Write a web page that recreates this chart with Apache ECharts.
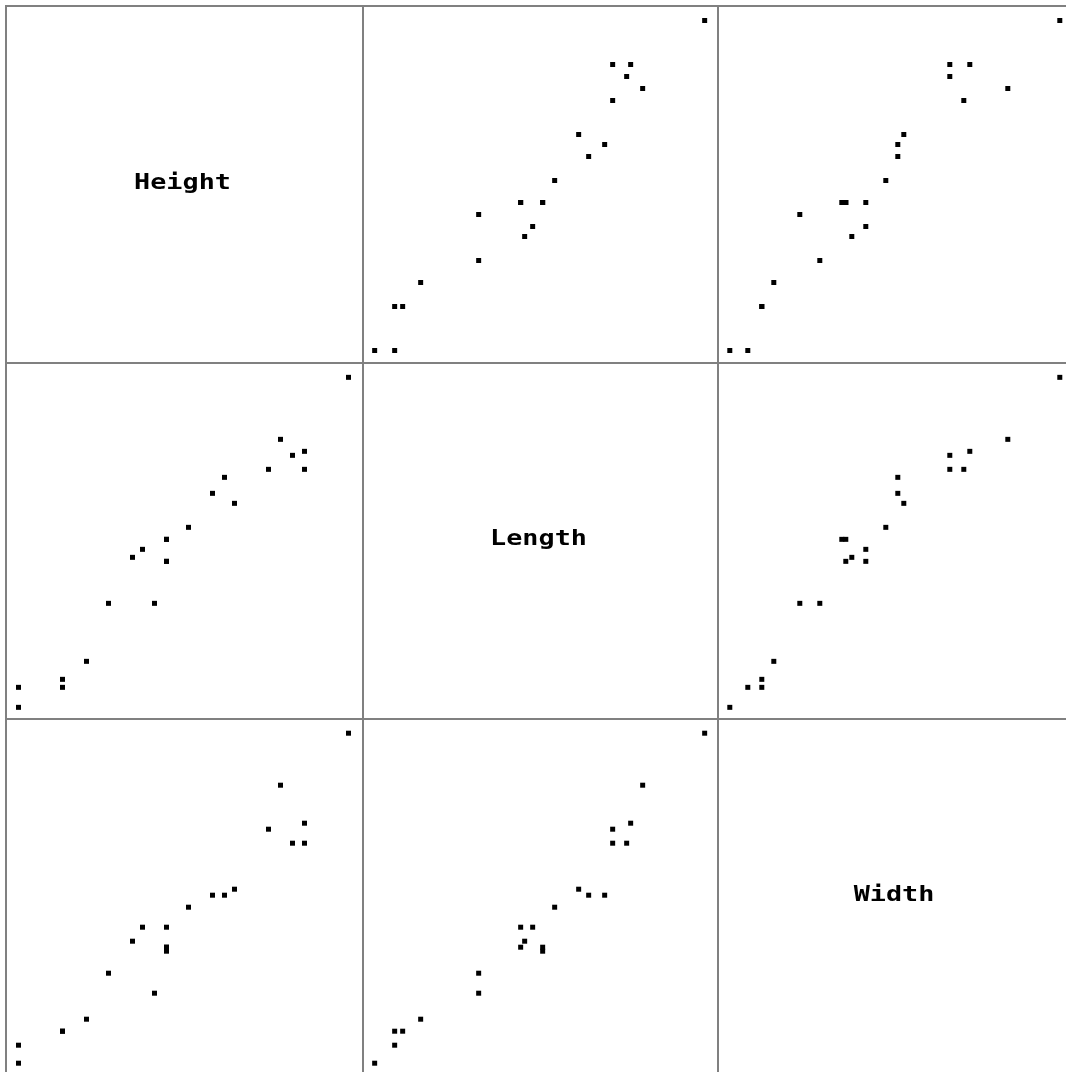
<!DOCTYPE html>
<html>
<head>
<meta charset="utf-8">
<script src="https://cdn.jsdelivr.net/npm/echarts@6/dist/echarts.min.js"></script>
<style>
html,body{margin:0;padding:0;background:#fff;}
#chart{width:1066px;height:1072px;}
</style>
</head>
<body>
<div id="chart"></div>
<script>
// Variables of the scatter-plot matrix
const variables = ['Height', 'Length', 'Width'];
const height = [171,149,149,143,137,131,114,109,103,91,80,80,80,80,74,68,63,51,40,28,28,6,6];
const length = [171,134,125,132,140,125,108,121,113,96,79,79,90,90,58,85,81,58,29,16,20,6,16];
const width  = [171,126,116,116,145,123,93,90,90,84,74,64,64,62,41,74,67,51,28,22,22,6,15];

const columns = [height, length, width];
const axisMin = [-0.25, 0.17, 0.1];

// cell edges (pixels); the last column/row runs past the picture edge
const edgesX = [6, 363, 718, 1074];
const edgesY = [6, 363, 719, 1075];
const W = 1066, H = 1072;

const grids = [], xAxes = [], yAxes = [], series = [], graphics = [];
let gi = 0;
for (let r = 0; r < 3; r++) {
  for (let c = 0; c < 3; c++) {
    const left = edgesX[c], top = edgesY[r];
    const fullW = edgesX[c + 1] - left, fullH = edgesY[r + 1] - top;
    const w = Math.min(fullW, W - left), h = Math.min(fullH, H - top);
    grids.push({left: left, top: top, width: w, height: h, show: false, containLabel: false});
    xAxes.push({gridIndex: gi, type: 'value', min: axisMin[c], max: axisMin[c] + w / 2, show: false});
    // y axis: keep 2px per unit measured from the cell's full bottom edge
    const yMin = axisMin[r] + (fullH - h) / 2;
    yAxes.push({gridIndex: gi, type: 'value', min: yMin, max: yMin + h / 2, show: false});
    if (r !== c) {
      const xs = columns[c], ys = columns[r];
      series.push({
        type: 'scatter', xAxisIndex: gi, yAxisIndex: gi,
        symbol: 'rect', symbolSize: 5, silent: true,
        itemStyle: {color: '#000000', opacity: 1},
        data: xs.map((v, i) => [v, ys[i]])
      });
    } else {
      graphics.push({
        type: 'text', x: left + fullW / 2 - 2, y: fullH / 2 + top - 1, scaleX: 1.34, scaleY: 1.05,
        style: {text: variables[r], x: 0, y: 0, textAlign: 'center', textVerticalAlign: 'middle',
          font: 'bold 20px "DejaVu Sans Mono"', fill: '#000'}
      });
    }
    gi++;
  }
}
// frame lines
for (let c = 0; c < 3; c++) {
  graphics.push({type: 'line', shape: {x1: edgesX[c], y1: 5, x2: edgesX[c], y2: H},
    style: {stroke: '#808080', lineWidth: 2}, silent: true});
}
for (let r = 0; r < 3; r++) {
  graphics.push({type: 'line', shape: {x1: 5, y1: edgesY[r], x2: W, y2: edgesY[r]},
    style: {stroke: '#808080', lineWidth: 2}, silent: true});
}

const chart = echarts.init(document.getElementById('chart'), null, {renderer: 'canvas'});
chart.setOption({
  animation: false,
  backgroundColor: '#ffffff',
  grid: grids,
  xAxis: xAxes,
  yAxis: yAxes,
  series: series,
  graphic: graphics
});
</script>
</body>
</html>
